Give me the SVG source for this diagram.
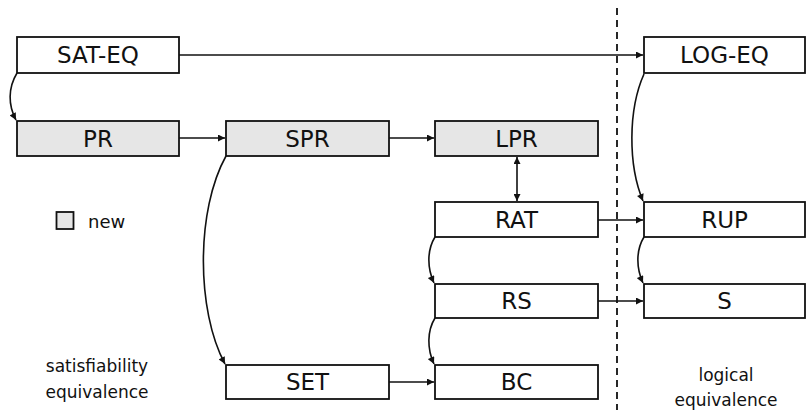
<svg xmlns="http://www.w3.org/2000/svg" width="806" height="410" viewBox="0 0 806 410">
<style>
.box{stroke:#111;stroke-width:1.8;fill:#fff}
.new{fill:#e6e6e6}
.lbl{font-family:"DejaVu Sans",sans-serif;font-size:23px;text-anchor:middle;fill:#111}
.sm{font-family:"DejaVu Sans",sans-serif;font-size:17px;text-anchor:middle;fill:#111}
.c{fill:none;stroke:#111;stroke-width:1.6}
</style>
<defs>
<marker id="ah" viewBox="0 0 10 10" refX="10" refY="5" markerWidth="8" markerHeight="7" markerUnits="userSpaceOnUse" orient="auto-start-reverse">
<path d="M0,0 L10,5 L0,10 z" fill="#111"/>
</marker>
</defs>
<line x1="617" y1="8" x2="617" y2="410" stroke="#111" stroke-width="1.8" stroke-dasharray="7,5"/>
<g id="connectors">
<path class="c" d="M179,55 H643" marker-end="url(#ah)"/>
<path class="c" d="M17,73 C8,88 8,105 16,120" marker-end="url(#ah)"/>
<path class="c" d="M179,138 H225" marker-end="url(#ah)"/>
<path class="c" d="M389,138 H434" marker-end="url(#ah)"/>
<path class="c" d="M517,157 V201" marker-start="url(#ah)" marker-end="url(#ah)"/>
<path class="c" d="M598,220 H643" marker-end="url(#ah)"/>
<path class="c" d="M598,301 H643" marker-end="url(#ah)"/>
<path class="c" d="M389,382 H434" marker-end="url(#ah)"/>
<path class="c" d="M226,156 C196,210 196,310 225,364" marker-end="url(#ah)"/>
<path class="c" d="M435,237 C427,250 427,268 434,283" marker-end="url(#ah)"/>
<path class="c" d="M435,318 C427,331 427,349 434,364" marker-end="url(#ah)"/>
<path class="c" d="M644,74 C628,110 628,165 643,201" marker-end="url(#ah)"/>
<path class="c" d="M644,237 C636,250 636,268 643,283" marker-end="url(#ah)"/>
</g>
<g id="sateq"><rect class="box" x="17" y="37" width="162" height="36"/><text class="lbl" x="98" y="63">SAT-EQ</text></g>
<g id="pr"><rect class="box new" x="17" y="121" width="162" height="35"/><text class="lbl" x="98" y="146.5">PR</text></g>
<g id="spr"><rect class="box new" x="226" y="121" width="163" height="35"/><text class="lbl" x="307.5" y="146.5">SPR</text></g>
<g id="lpr"><rect class="box new" x="435" y="121" width="163" height="35"/><text class="lbl" x="516.5" y="146.5">LPR</text></g>
<g id="logeq"><rect class="box" x="644" y="37" width="161" height="36"/><text class="lbl" x="724.5" y="63">LOG-EQ</text></g>
<g id="rat"><rect class="box" x="435" y="202" width="163" height="35"/><text class="lbl" x="516.5" y="227.5">RAT</text></g>
<g id="rup"><rect class="box" x="644" y="202" width="161" height="35"/><text class="lbl" x="724.5" y="227.5">RUP</text></g>
<g id="rs"><rect class="box" x="435" y="284" width="163" height="34"/><text class="lbl" x="516.5" y="309">RS</text></g>
<g id="s"><rect class="box" x="644" y="284" width="161" height="34"/><text class="lbl" x="724.5" y="309">S</text></g>
<g id="set"><rect class="box" x="226" y="365" width="163" height="34"/><text class="lbl" x="307.5" y="390">SET</text></g>
<g id="bc"><rect class="box" x="435" y="365" width="163" height="34"/><text class="lbl" x="516.5" y="390">BC</text></g>
<g id="legend"><rect class="box new" x="56.5" y="212" width="17" height="17"/><text class="sm" x="88" y="228" style="text-anchor:start;font-size:18px">new</text></g>
<g id="labels">
<text class="sm" x="97" y="372">satisfiability</text>
<text class="sm" x="97" y="398">equivalence</text>
<text class="sm" x="726" y="381">logical</text>
<text class="sm" x="726" y="406">equivalence</text>
</g>
</svg>
